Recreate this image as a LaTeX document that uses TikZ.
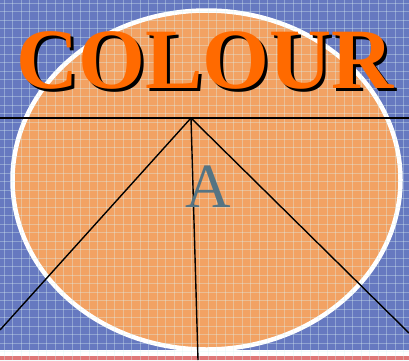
\documentclass[tikz,border=0pt]{standalone}
\usepackage{fontspec}
\setmainfont{Liberation Serif}
\definecolor{bgblue}{HTML}{6679C0}
\definecolor{ovalorange}{HTML}{F2A263}
\definecolor{titleorange}{HTML}{FF6A00}
\definecolor{bandred}{HTML}{E07878}
\definecolor{letterslate}{HTML}{557483}
\definecolor{gridcyan}{HTML}{DDF4F4}
\tikzset{
  gridline/.style={draw=gridcyan,opacity=0.35,line width=0.6pt},
  guide/.style={draw=black,line width=1.4pt},
}

\begin{document}
\begin{tikzpicture}[
  x=1pt,y=-1pt,
  oval/.style={fill=ovalorange,draw=white,line width=4.5pt},
  title/.style={font=\fontsize{86}{86}\selectfont\bfseries,inner sep=0pt},
  letter/.style={font=\fontsize{63}{63}\selectfont,text=letterslate,inner sep=0pt}
]
\useasboundingbox (0,0) rectangle (409,360);

% backdrop
\fill[bgblue] (0,0) rectangle (409,360);
\fill[white] (0,350) rectangle (409,356);
\fill[bandred] (0,356) rectangle (409,360);

\draw[oval] (206.5,180) ellipse [x radius=194, y radius=169.5];

% fine grid over everything
\foreach \gx in {4,12.5,...,409}
  \draw[gridline] (\gx,0) -- (\gx,360);
\foreach \gy in {3,11.5,...,360}
  \draw[gridline] (0,\gy) -- (409,\gy);

% lines
\coordinate (apex) at (191,118);
\coordinate (hl) at (0,118);
\coordinate (hr) at (409,118);
\coordinate (bl) at (0,330);
\coordinate (br) at (409,333);
\coordinate (bm) at (198,360);

\draw[guide] (hl) -- (hr);
\draw[guide] (apex) -- (bl);
\draw[guide] (apex) -- (br);
\draw[guide] (apex) -- (bm);

\node[letter] (A) at (208,187) {A};

\node[title,text=black] (shadow) at (208,63) {COLOUR};
\node[title,text=titleorange] (colour) at (205,60) {COLOUR};

\end{tikzpicture}
\end{document}
